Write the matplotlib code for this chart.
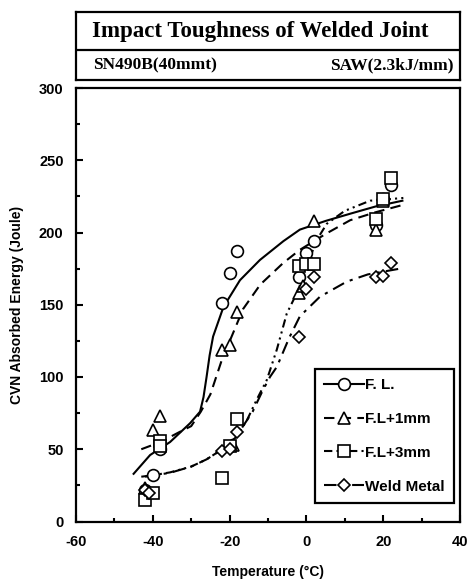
import numpy as np
import matplotlib
matplotlib.use("Agg")
import matplotlib.pyplot as plt
from matplotlib.lines import Line2D

# measured specimens
fl_t = [-42, -40, -38, -22, -20, -18, -2, 0, 2, 18, 20, 22]
fl_e = [22, 32, 50, 151, 172, 187, 169, 186, 194, 205, 223, 233]
fl1_t = [-42, -40, -38, -22, -20, -19, -18, -2, -1, 2, 18, 20]
fl1_e = [23, 63, 73, 119, 122, 53, 145, 158, 163, 208, 202, 222]
fl3_t = [-42, -40, -38, -38, -22, -20, -18, -2, 0, 2, 18, 20, 22]
fl3_e = [15, 20, 56, 52, 30, 52, 71, 177, 178, 178, 209, 223, 238]
wm_t = [-42, -41, -22, -20, -18, -2, 0, 2, 18, 20, 22]
wm_e = [22, 20, 49, 50, 62, 128, 161, 169, 169, 170, 179]

# fitted transition curves
fl_ct = [-45, -40.7, -35.5, -30.3, -27.7, -26.8, -26, -25.2, -24.3, -21.6, -17.3, -12.1, -6, -1.7, 5, 11.4, 18, 25]
fl_ce = [33, 46, 55, 68, 76, 86, 100, 115, 128, 148.5, 167, 181, 194, 202, 208, 213, 218, 222]
fl1_ct = [-43, -38, -33, -30, -27.5, -25, -22, -19, -16.5, -12, -6, -1.7, 5, 11.4, 18, 25]
fl1_ce = [50, 55, 62, 66, 76, 88, 112, 131, 147, 164, 179, 188, 199, 208.5, 214, 219]
fl3_ct = [-43, -40, -35.5, -30, -26, -22.5, -18.2, -15.5, -13, -10.3, -7.7, -5.1, -2.5, 0, 2.5, 5.3, 10, 16.6, 25.7]
fl3_ce = [31, 32, 34, 38, 43, 49, 58.6, 70, 84, 98, 119, 144, 158, 175, 194, 206, 215, 222, 224]
wm_ct = [-42, -35.5, -30, -26, -22.5, -18, -14, -11.5, -9.5, -7.7, -4.5, -1.7, 3.5, 10.5, 16, 24.4]
wm_ce = [31, 33.7, 38, 43, 49, 60, 76, 90, 100, 107, 127, 142, 155.5, 166, 171, 175]

labels = ["F. L.", "F.L+1mm", "F.L+3mm", "Weld Metal"]
markers = ["o", "^", "s", "D"]
styles = ["-", (0, (5, 3)), (0, (4, 2, 1, 2, 1, 2)), (0, (6, 3, 1.5, 3))]

plt.rcParams['font.family'] = ['Liberation Sans', 'DejaVu Sans']
plt.rcParams['font.weight'] = 'bold'
plt.rcParams['axes.unicode_minus'] = False

fig = plt.figure(figsize=(4.71, 5.82), dpi=100)
ax = fig.add_axes([76 / 471, 1 - 521.5 / 582, 384 / 471, 433.5 / 582])

curves = [(fl_ct, fl_ce), (fl1_ct, fl1_ce), (fl3_ct, fl3_ce), (wm_ct, wm_ce)]
points = [(fl_t, fl_e), (fl1_t, fl1_e), (fl3_t, fl3_e), (wm_t, wm_e)]
for (ct, ce), ls in zip(curves, styles):
    ax.plot(ct, ce, color='black', lw=1.5, linestyle=ls)
for (t, e), m in zip(points, markers):
    ms = 6.5 if m == 'D' else 8.5
    ax.plot(t, e, linestyle='none', marker=m, ms=ms, mfc='white', mec='black', mew=1.2)

ax.set_xlim(-60, 40)
ax.set_ylim(0, 300)
ax.set_xticks([-60, -40, -20, 0, 20, 40])
ax.set_xticks(np.arange(-50, 40, 10), minor=True)
ax.set_yticks(np.arange(0, 301, 50))
ax.set_yticks(np.arange(25, 300, 50), minor=True)
ax.tick_params(which='both', direction='in', width=1.5, labelsize=10.5)
ax.tick_params(which='major', length=5)
ax.tick_params(which='minor', length=3)
ax.tick_params(axis='x', pad=10)
ax.tick_params(axis='y', pad=9)
for s in ax.spines.values():
    s.set_linewidth(1.6)
ax.set_xlabel("Temperature (\u00b0C)", fontsize=10, fontweight='bold', labelpad=11)
ax.set_ylabel("CVN Absorbed Energy (Joule)", fontsize=10, fontweight='bold', labelpad=11)

handles = []
for m, ls, lab in zip(markers, styles, labels):
    ms = 6.5 if m == 'D' else 8.5
    handles.append(Line2D([], [], color='black', lw=1.5, linestyle=ls, marker=m, ms=ms,
                          mfc='white', mec='black', mew=1.2, label=lab))
leg = ax.legend(handles=handles, loc='lower right', bbox_to_anchor=(0.984, 0.043),
                borderaxespad=0, fancybox=False, framealpha=1, edgecolor='black',
                prop={'size': 11, 'weight': 'bold'}, handlelength=2.6, handletextpad=0.1,
                labelspacing=1.3, borderpad=0.6)
leg.get_frame().set_linewidth(1.6)

# title boxes above the plot
tax = fig.add_axes([76 / 471, 1 - 80 / 582, 384 / 471, 68 / 582])
tax.set_xticks([])
tax.set_yticks([])
for s in tax.spines.values():
    s.set_linewidth(1.6)
tax.axhline(30 / 68, color='black', lw=1.6)
tax.text(0.48, 0.72, "Impact Toughness of Welded Joint", ha='center', va='center',
         fontsize=16.5, fontweight='bold', family=['Liberation Serif', 'DejaVu Serif'])
tax.text(0.044, 0.22, "SN490B(40mmt)", ha='left', va='center',
         fontsize=12.5, fontweight='bold', family=['Liberation Serif', 'DejaVu Serif'])
tax.text(0.982, 0.22, "SAW(2.3kJ/mm)", ha='right', va='center',
         fontsize=12.5, fontweight='bold', family=['Liberation Serif', 'DejaVu Serif'])

fig.savefig("out.png", dpi=100)
